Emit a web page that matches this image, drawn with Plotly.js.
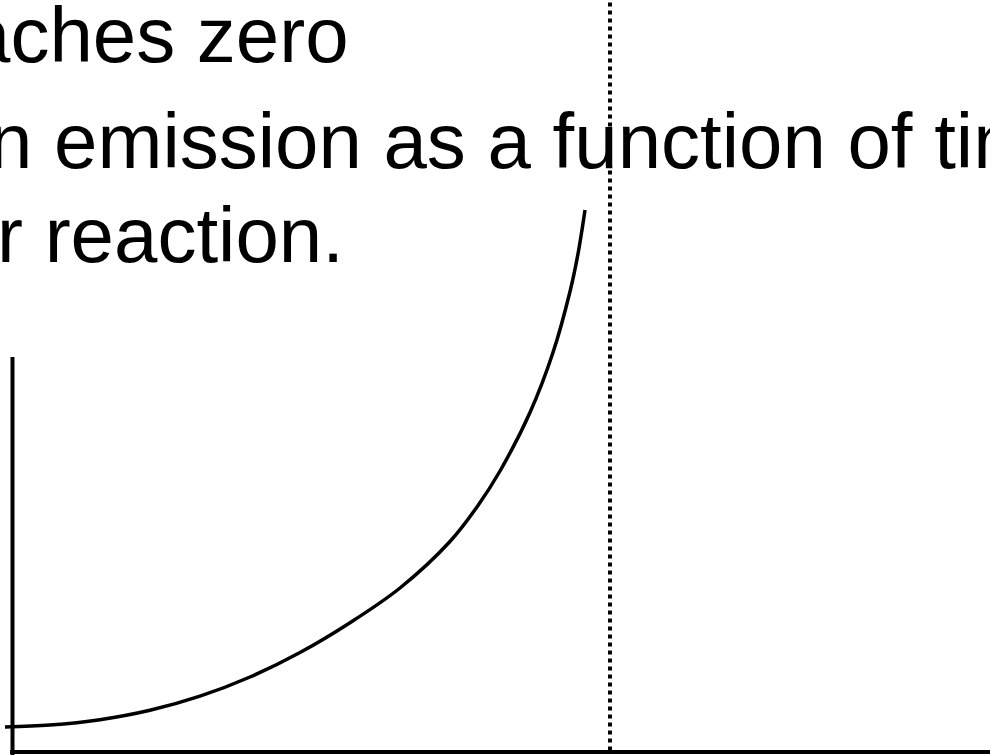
<!DOCTYPE html>
<html>
<head>
<meta charset="utf-8">
<script src="https://cdn.plot.ly/plotly-3.0.1.min.js"></script>
<style>
  html, body { margin: 0; padding: 0; background: #ffffff; }
  #chart { width: 990px; height: 755px; }
</style>
</head>
<body>
<div id="chart"></div>
<script>
// Emission intensity vs. time (arbitrary units)
const timeValues = [-0.126, 0.628, 1.464, 2.301, 3.138, 3.975, 4.812, 5.649, 6.485, 7.322, 7.791, 8.159, 8.661, 9.046, 9.331, 9.464, 9.582];
const emissionValues = [0.50, 0.54, 0.646, 0.834, 1.116, 1.50, 1.99, 2.586, 3.28, 4.21, 4.93, 5.62, 6.79, 7.99, 9.21, 9.96, 10.84];
// Time at which the reaction ends (dotted marker)
const cutoffTime = [10];
// Height of the drawn vertical axis
const yAxisTop = [7.9];
// Slide text lines (visible parts)
const textLines = ["aches zero", "n emission as a function of tim", "r reaction."];

const xRange = [-0.2092, 16.36];
const yRange = [-0.06, 15.04];
const fontFamily = "Liberation Sans, Arial, sans-serif";
const fontSize = 78;

const traces = [{
  type: "scatter",
  mode: "lines",
  x: timeValues,
  y: emissionValues,
  line: { color: "#000000", width: 3.5, shape: "spline", smoothing: 1 },
  hoverinfo: "skip",
  showlegend: false
}];

const shapes = [
  { type: "line", xref: "x", yref: "y", x0: 0, x1: 0, y0: yRange[0], y1: yAxisTop[0],
    line: { color: "#000000", width: 4 } },
  { type: "line", xref: "x", yref: "y", x0: -0.04, x1: xRange[1], y0: 0, y1: 0,
    line: { color: "#000000", width: 4 } },
  { type: "line", xref: "x", yref: "paper", x0: cutoffTime[0], x1: cutoffTime[0], y0: 0.006, y1: 1,
    line: { color: "#000000", width: 4, dash: "dot" } }
];

const textLeft = [-35.5, -13, -5];
const textTop = [-11, 95, 189];
const annotations = textLines.map((t, i) => ({
  text: t,
  xref: "paper", yref: "paper",
  x: textLeft[i] / 990, y: 1 - textTop[i] / 755,
  xanchor: "left", yanchor: "top",
  showarrow: false,
  align: "left",
  font: { family: fontFamily, size: fontSize, color: "#000000" }
}));

const layout = {
  width: 990, height: 755,
  margin: { l: 0, r: 0, t: 0, b: 0, pad: 0 },
  paper_bgcolor: "#ffffff",
  plot_bgcolor: "#ffffff",
  showlegend: false,
  xaxis: { range: xRange, visible: false, fixedrange: true },
  yaxis: { range: yRange, visible: false, fixedrange: true },
  shapes: shapes,
  annotations: annotations
};

Plotly.newPlot("chart", traces, layout, { displayModeBar: false, staticPlot: true });
</script>
</body>
</html>
